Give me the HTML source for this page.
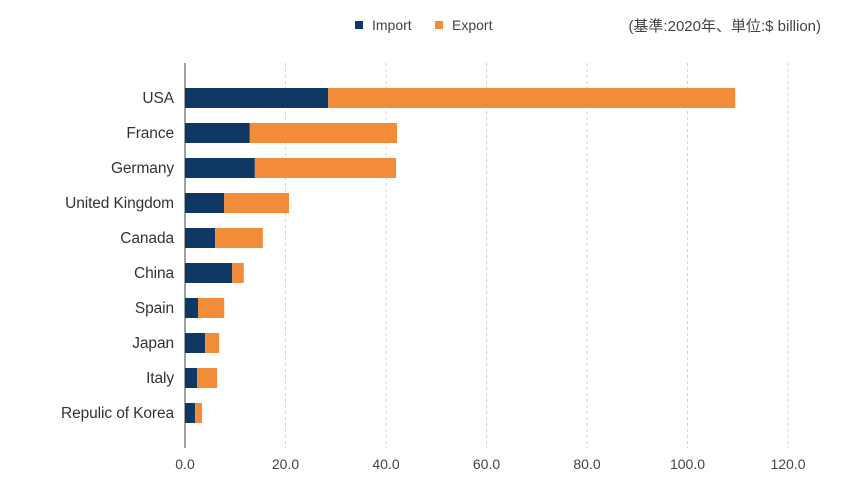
<!DOCTYPE html>
<html><head><meta charset="utf-8"><style>
html,body{margin:0;padding:0;background:#fff;}
svg{display:block;font-family:"Liberation Sans","Noto Sans CJK KR",sans-serif;}
</style></head><body>
<svg id="chart" width="850" height="490">
<g id="legend">
<rect x="355" y="21" width="8" height="8" fill="#0f3864"/>
<text x="372" y="30" font-size="14" fill="#444">Import</text>
<rect x="435" y="21" width="8" height="8" fill="#f28c38"/>
<text x="452" y="30" font-size="14" fill="#444">Export</text>
</g>
<text x="821" y="31" font-size="15" fill="#444" text-anchor="end">(基準:2020年、単位:$ billion)</text>
<g id="grid"></g><g id="bars"></g><g id="labels"></g>
</svg>
<script>
const categories=["USA","France","Germany","United Kingdom","Canada","China","Spain","Japan","Italy","Repulic of Korea"];
const importValues=[28.5,12.9,13.9,7.8,6.0,9.4,2.6,4.0,2.4,2.0];
const exportValues=[81.0,29.3,28.1,12.9,9.5,2.3,5.2,2.8,4.0,1.4];
const tickValues=[0,20,40,60,80,100,120];
const NS="http://www.w3.org/2000/svg";
const x0=185,pxPer=5.025,yTop=63,yBot=448,row0=98,rowStep=35,barH=20;
const xs=v=>x0+v*pxPer;
const ys=i=>row0+i*rowStep;
function mk(t,a,p){const e=document.createElementNS(NS,t);for(const k in a)e.setAttribute(k,a[k]);p.appendChild(e);return e;}
const grid=document.getElementById('grid'),bars=document.getElementById('bars'),labels=document.getElementById('labels');
tickValues.forEach(v=>{
 if(v>0){const l=mk('line',{x1:xs(v),x2:xs(v),y1:yTop,y2:yBot,stroke:'#d0d0d0','stroke-dasharray':'3,3'},grid);
 
 }
 const t=mk('text',{x:xs(v),y:469,'font-size':14,fill:'#444','text-anchor':'middle'},labels);
 t.textContent=v.toFixed(1);
 
 
});
const ax=mk('line',{x1:x0,x2:x0,y1:yTop,y2:yBot,stroke:'#444','stroke-width':1},grid);


categories.forEach((c,i)=>{
 const y=ys(i);
 const a=mk('rect',{x:xs(0),y:y-barH/2,width:xs(importValues[i])-xs(0),height:barH,fill:'#0f3864'},bars);
 
 
 const b=mk('rect',{x:xs(importValues[i]),y:y-barH/2,width:xs(importValues[i]+exportValues[i])-xs(importValues[i]),height:barH,fill:'#f28c38'},bars);
 
 
 const t=mk('text',{x:174,y:y+5,'font-size':15.5,fill:'#333','text-anchor':'end','letter-spacing':'-0.1'},labels);
 t.textContent=c;
 
 
});
</script>
</body></html>
